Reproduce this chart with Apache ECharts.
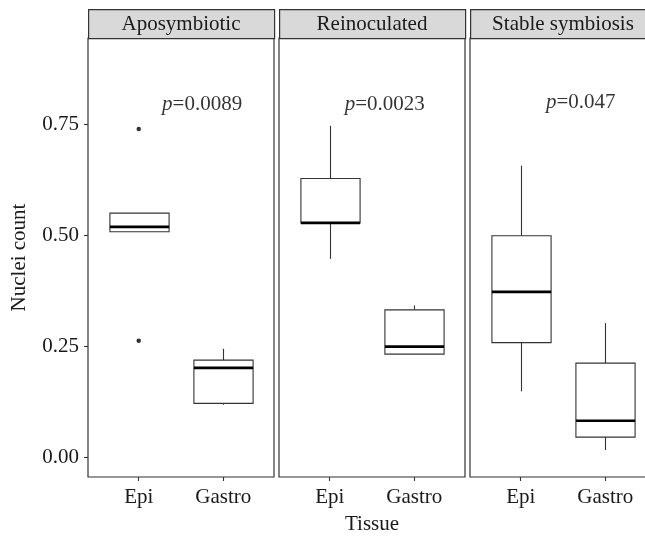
<!DOCTYPE html>
<html>
<head>
<meta charset="utf-8">
<script src="https://cdn.jsdelivr.net/npm/echarts@6/dist/echarts.min.js"></script>
<style>
html,body{margin:0;padding:0;background:#fff;}
#chart{width:645px;height:537px;}
</style>
</head>
<body>
<div id="chart"></div>
<script>
// ---- data ----
const panels = ['Aposymbiotic', 'Reinoculated', 'Stable symbiosis'];
const tissues = ['Epi', 'Gastro'];
const yTicks = [0, 0.25, 0.5, 0.75];
// [tissueIndex(1-based), lower whisker, Q1, median, Q3, upper whisker]
const boxAposymbiotic = [[1, 0.508, 0.508, 0.519, 0.550, 0.550], [2, 0.118, 0.121, 0.201, 0.2185, 0.244]];
const boxReinoculated = [[1, 0.447, 0.528, 0.528, 0.628, 0.747], [2, 0.232, 0.232, 0.249, 0.332, 0.342]];
const boxStable = [[1, 0.148, 0.258, 0.3725, 0.499, 0.657], [2, 0.016, 0.045, 0.082, 0.2117, 0.302]];
const outliersAposymbiotic = [[1, 0.740], [1, 0.262]];
const outliersReinoculated = [];
const outliersStable = [];
const pLabels = ['0.0089', '0.0023', '0.047'];
const pAnchorX = [1.75, 1.65, 1.71];
const pAnchorY = [0.795, 0.795, 0.80];

const boxes = [boxAposymbiotic, boxReinoculated, boxStable];
const outliers = [outliersAposymbiotic, outliersReinoculated, outliersStable];

// ---- layout ----
const FONT = 'Liberation Serif';
const FS = 21;
const panelLeft0 = 88, panelStep = 191, panelW = 186, panelTop = 38, panelH = 439;
const stripTop = 9, stripH = 29;
const ink = '#333333';

const chart = echarts.init(document.getElementById('chart'), null, {renderer: 'canvas'});

function renderBox(params, api) {
  const x = api.value(0);
  const lo = api.coord([x, api.value(1)]);
  const q1 = api.coord([x, api.value(2)]);
  const med = api.coord([x, api.value(3)]);
  const q3 = api.coord([x, api.value(4)]);
  const hi = api.coord([x, api.value(5)]);
  const w = api.size([0.7, 0])[0];
  const cx = Math.round(q1[0]) + 0.5;
  return {
    type: 'group',
    children: [
      {type: 'line', shape: {x1: cx, y1: hi[1], x2: cx, y2: q3[1]}, style: {stroke: ink, lineWidth: 1.1}},
      {type: 'line', shape: {x1: cx, y1: q1[1], x2: cx, y2: lo[1]}, style: {stroke: ink, lineWidth: 1.1}},
      {type: 'rect', shape: {x: cx - w / 2, y: q3[1], width: w, height: q1[1] - q3[1]},
        style: {fill: '#ffffff', stroke: ink, lineWidth: 1.1}},
      {type: 'line', shape: {x1: cx - w / 2, y1: med[1], x2: cx + w / 2, y2: med[1]},
        style: {stroke: '#000000', lineWidth: 2.6}}
    ]
  };
}

const grids = [], xAxes = [], yAxes = [], series = [], graphics = [];
panels.forEach((name, i) => {
  const left = panelLeft0 + i * panelStep;
  grids.push({left: left, top: panelTop, width: panelW, height: panelH, show: true,
    borderColor: ink, borderWidth: 1.2, backgroundColor: '#ffffff',
    containLabel: false, outerBoundsMode: 'none'});
  xAxes.push({
    type: 'value', gridIndex: i, min: 0.4, max: 2.6, position: 'bottom',
    axisLine: {show: false, onZero: false}, splitLine: {show: false},
    axisTick: {show: true, length: 4, lineStyle: {color: ink, width: 1.1}, customValues: [1, 2]},
    axisLabel: {show: true, customValues: [1, 2], margin: 10, color: '#1a1a1a',
      fontFamily: FONT, fontSize: FS, formatter: v => tissues[Math.round(v) - 1] || ''},
    name: i === 1 ? 'Tissue' : '', nameLocation: 'middle', nameGap: 37,
    nameTextStyle: {fontFamily: FONT, fontSize: FS, color: '#1a1a1a'}
  });
  yAxes.push({
    type: 'value', gridIndex: i, min: -0.045, max: 0.945, position: 'left',
    axisLine: {show: false, onZero: false}, splitLine: {show: false},
    axisTick: {show: i === 0, length: 4, lineStyle: {color: ink, width: 1.1}, customValues: yTicks},
    axisLabel: {show: i === 0, customValues: yTicks, margin: 9, color: '#1a1a1a',
      fontFamily: FONT, fontSize: FS, formatter: v => v.toFixed(2)},
    name: i === 0 ? 'Nuclei count' : '', nameLocation: 'middle', nameGap: 58,
    nameTextStyle: {fontFamily: FONT, fontSize: FS, color: '#1a1a1a'}
  });
  series.push({
    type: 'custom', xAxisIndex: i, yAxisIndex: i, renderItem: renderBox,
    data: boxes[i], encode: {x: 0, y: [1, 2, 3, 4, 5]}, silent: true
  });
  if (outliers[i].length) {
    series.push({type: 'scatter', xAxisIndex: i, yAxisIndex: i, data: outliers[i],
      symbol: 'circle', symbolSize: 4.5, itemStyle: {color: '#000'}, silent: true});
  }
  series.push({
    type: 'scatter', xAxisIndex: i, yAxisIndex: i, symbolSize: 0, silent: true,
    data: [[pAnchorX[i], pAnchorY[i]]],
    label: {show: true, position: 'inside', formatter: '{it|p}=' + pLabels[i],
      fontFamily: FONT, fontSize: FS, color: '#000',
      rich: {it: {fontFamily: FONT, fontSize: FS, fontStyle: 'italic', color: '#000'}}}
  });
  graphics.push({
    type: 'rect', left: left, top: stripTop, silent: true,
    shape: {x: 0, y: 0, width: panelW, height: stripH},
    style: {fill: '#d9d9d9', stroke: ink, lineWidth: 1.2}
  });
  graphics.push({
    type: 'text', silent: true,
    x: left + panelW / 2, y: stripTop + stripH / 2 + 0.5,
    style: {text: name, fontFamily: FONT, fontSize: FS, fill: '#1a1a1a', align: 'center', verticalAlign: 'middle'}
  });
});

chart.setOption({
  animation: false,
  backgroundColor: '#ffffff',
  grid: grids, xAxis: xAxes, yAxis: yAxes, series: series, graphic: graphics
});
</script>
</body>
</html>
